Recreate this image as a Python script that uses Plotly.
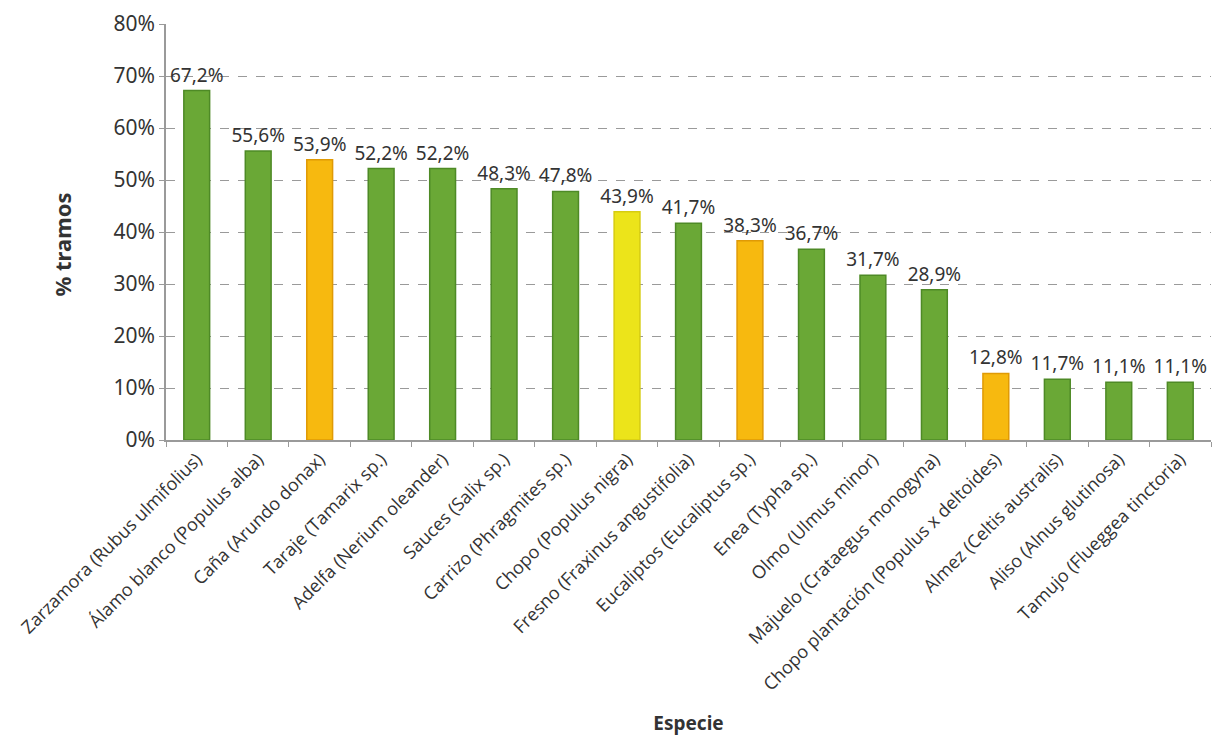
import plotly.graph_objects as go

especies = [
    "Zarzamora (Rubus ulmifolius)",
    "Álamo blanco (Populus alba)",
    "Caña (Arundo donax)",
    "Taraje (Tamarix sp.)",
    "Adelfa (Nerium oleander)",
    "Sauces (Salix sp.)",
    "Carrizo (Phragmites sp.)",
    "Chopo (Populus nigra)",
    "Fresno (Fraxinus angustifolia)",
    "Eucaliptos (Eucaliptus sp.)",
    "Enea (Typha sp.)",
    "Olmo (Ulmus minor)",
    "Majuelo (Crataegus monogyna)",
    "Chopo plantación (Populus x deltoides)",
    "Almez (Celtis australis)",
    "Aliso (Alnus glutinosa)",
    "Tamujo (Flueggea tinctoria)",
]
porcentaje_tramos = [67.2, 55.6, 53.9, 52.2, 52.2, 48.3, 47.8, 43.9, 41.7,
                     38.3, 36.7, 31.7, 28.9, 12.8, 11.7, 11.1, 11.1]
grupo = ["nativa", "nativa", "invasora", "nativa", "nativa", "nativa", "nativa",
         "cultivo", "nativa", "invasora", "nativa", "nativa", "nativa",
         "invasora", "nativa", "nativa", "nativa"]

relleno = {"nativa": "#6aa836", "invasora": "#f7b90f", "cultivo": "#ece41a"}
borde = {"nativa": "#4e8a26", "invasora": "#e09a05", "cultivo": "#d6cc10"}

fig = go.Figure(
    go.Bar(
        x=especies,
        y=porcentaje_tramos,
        marker=dict(
            color=[relleno[g] for g in grupo],
            line=dict(color=[borde[g] for g in grupo], width=1.5),
        ),
        texttemplate="%{y:.1f}%",
        textposition="outside",
        constraintext="none",
        cliponaxis=False,
        textfont=dict(family="Noto Sans", size=19, color="#333333"),
        width=0.42,
    )
)

fig.update_layout(
    width=1213,
    height=736,
    margin=dict(l=166, r=2, t=24, b=296),
    plot_bgcolor="white",
    paper_bgcolor="white",
    separators=",.",
    showlegend=False,
    font=dict(family="Noto Sans", color="#333333"),
    annotations=[
        dict(
            text="<b>% tramos</b>",
            xref="paper", yref="paper",
            x=-0.0995, y=0.47,
            xanchor="center", yanchor="middle",
            textangle=-90,
            showarrow=False,
            font=dict(family="Noto Sans", size=22, color="#333333"),
        )
    ],
)

fig.update_yaxes(
    range=[0, 80],
    dtick=10,
    ticksuffix="%",
    tickfont=dict(family="Noto Sans", size=21, color="#333333"),
    showgrid=True,
    gridcolor="#9a9a9a",
    griddash="dash",
    gridwidth=1,
    showline=True,
    linecolor="#9a9a9a",
    linewidth=1.5,
    ticks="outside",
    ticklen=5,
    tickcolor="#9a9a9a",
    zeroline=False,
    automargin=False,
)

fig.update_xaxes(
    tickangle=-45,
    tickfont=dict(family="Open Sans", size=18, color="#333333"),
    showline=True,
    linecolor="#9a9a9a",
    linewidth=1.5,
    ticks="outside",
    tickson="boundaries",
    ticklen=5,
    tickcolor="#9a9a9a",
    automargin=False,
    title=dict(text="<b>Especie</b>", font=dict(family="Noto Sans", size=19, color="#333333"), standoff=28),
)

fig.write_html("out.html")
